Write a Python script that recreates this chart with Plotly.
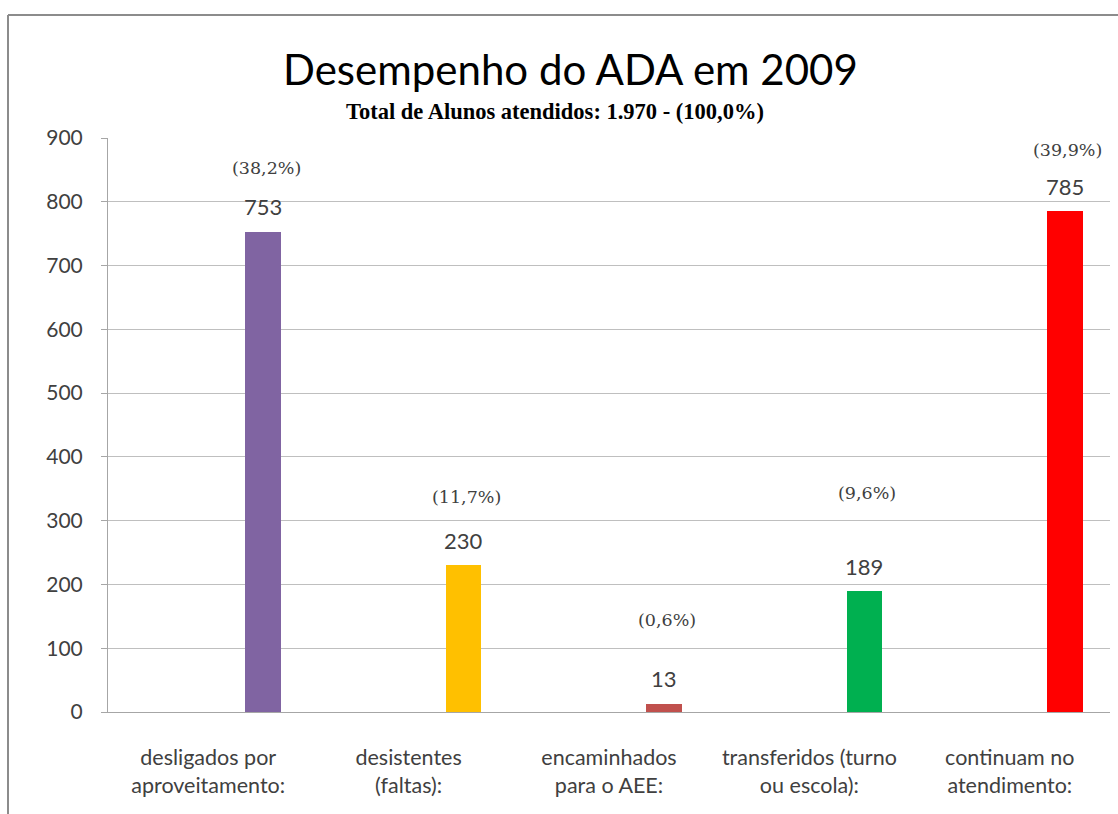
import plotly.graph_objects as go

categories = [
    "desligados por<br>aproveitamento:",
    "desistentes<br>(faltas):",
    "encaminhados<br>para o AEE:",
    "transferidos (turno<br>ou escola):",
    "continuam no<br>atendimento:",
]
values = [753, 230, 13, 189, 785]
percent_labels = ["(38,2%)", "(11,7%)", "(0,6%)", "(9,6%)", "(39,9%)"]
bar_colors = ["#8064A2", "#FFC000", "#C0504D", "#00B050", "#FF0000"]
y_ticks = [0, 100, 200, 300, 400, 500, 600, 700, 800, 900]

title_text = "Desempenho do ADA em 2009"
subtitle_text = "Total de Alunos atendidos: 1.970 - (100,0%)"

W, H = 1118, 814
ML, MR, MT, MB = 108, 8, 138, 102
PW = W - ML - MR
PH = H - MT - MB

BAR_W = 0.177
BAR_OFF = 0.186
pct_shift = [64, 68, 84, 98, 61]  # px above bar top (manually placed text boxes)

fig = go.Figure()
fig.add_trace(go.Bar(
    x=categories, y=values,
    marker=dict(color=bar_colors, line=dict(width=0)),
    width=BAR_W, offset=BAR_OFF,
    hoverinfo="skip",
))

annotations = []
for i, (v, p) in enumerate(zip(values, percent_labels)):
    xc = i + BAR_OFF + BAR_W / 2
    annotations.append(dict(
        x=xc, y=v, xref="x", yref="y", text=str(v), showarrow=False,
        yanchor="middle", yshift=25,
        font=dict(family="Lato", size=22, color="#404040"),
    ))
    annotations.append(dict(
        x=xc, y=v, xref="x", yref="y", text=p, showarrow=False,
        yanchor="middle", yshift=pct_shift[i], xshift=3,
        font=dict(family="DejaVu Serif", size=17.5, color="#404040"),
    ))

annotations.append(dict(
    x=(570 - ML) / PW, y=(H - MB - 69) / PH, xref="paper", yref="paper",
    text=title_text, showarrow=False, xanchor="center", yanchor="middle",
    font=dict(family="Lato", size=42, color="#000000"),
))
annotations.append(dict(
    x=(555 - ML) / PW, y=(H - MB - 111) / PH, xref="paper", yref="paper",
    text="<b>" + subtitle_text + "</b>", showarrow=False, xanchor="center", yanchor="middle",
    font=dict(family="Liberation Serif", size=22.5, color="#000000"),
))

# outer chart frame (partially visible)
fx = (8 - ML) / PW
fy = (H - MB - 15) / PH
shapes = [
    dict(type="line", xref="paper", yref="paper", x0=fx, x1=fx, y0=fy, y1=-1,
         line=dict(color="#8c8c8c", width=2)),
    dict(type="line", xref="paper", yref="paper", x0=fx, x1=2, y0=fy, y1=fy,
         line=dict(color="#8c8c8c", width=2)),
]

fig.update_layout(
    width=W, height=H,
    margin=dict(l=ML, r=MR, t=MT, b=MB, pad=0),
    paper_bgcolor="white", plot_bgcolor="white",
    showlegend=False,
    annotations=annotations,
    shapes=shapes,
    bargap=0,
    xaxis=dict(
        type="category", showgrid=False, showline=True, linecolor="#a6a6a6", linewidth=1,
        ticks="", tickfont=dict(family="Lato", size=21.5, color="#404040"),
        ticklabelstandoff=26, range=[-0.5, 4.5],
    ),
    yaxis=dict(
        range=[0, 900], tickvals=y_ticks, showgrid=True, gridcolor="#bfbfbf", gridwidth=1,
        showline=True, linecolor="#a6a6a6", linewidth=1, ticks="outside", ticklen=6,
        tickcolor="#a6a6a6", tickfont=dict(family="Lato", size=21, color="#404040"),
        ticklabelstandoff=14, zeroline=False,
    ),
)

fig.write_html("out.html")
